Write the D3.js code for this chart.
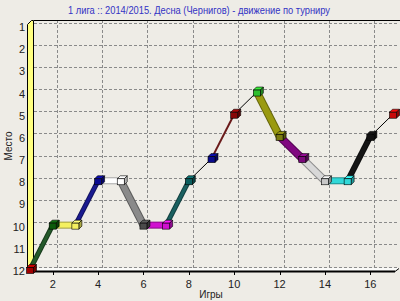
<!DOCTYPE html>
<html>
<head>
<meta charset="utf-8">
<script src="https://cdn.jsdelivr.net/npm/d3@7"></script>
<style>
  html, body { margin: 0; padding: 0; background: #EEECE6; }
  svg { display: block; font-family: "Liberation Sans", Arial, sans-serif; }
</style>
</head>
<body>
<svg id="chart" width="400" height="301"></svg>
<script>
// place after each game
const games  = [1, 2, 3, 4, 5, 6, 7, 8, 9, 10, 11, 12, 13, 14, 15, 16, 17];
const places = [12, 10, 10, 8, 8, 10, 10, 8, 7, 5, 4, 6, 7, 8, 8, 6, 5];
const xTicks = [2, 4, 6, 8, 10, 12, 14, 16];
const yTicks = [1, 2, 3, 4, 5, 6, 7, 8, 9, 10, 11, 12];

// marker colours, one per game
const markerColors = ['#A00000', '#0B5A0B', '#F4F060', '#0A0A90', '#FFFFFF', '#4A4A4A',
  '#D010D0', '#0A5E5E', '#0A0A8C', '#880808', '#2FC02F', '#7A7A10', '#7A087A',
  '#C8C8C8', '#30D8D8', '#111111', '#C80A0A'];
// segment styles, from game i to i+1
const segColors = ['#245A2A', '#F4F060', '#1A1A90', '#FFFFFF', '#8A8A8A', '#D010D0',
  '#1A6060', '#000000', '#6A1A1A', '#000000', '#9A9A10', '#800880', '#D8D8D8',
  '#30D8D8', '#151515', '#000000'];
const segWidths = [3, 5, 3, 5, 6, 5, 3, 1, 2, 1, 6, 6, 6, 5, 4, 1];

const svg = d3.select('#chart');
const W = 400;
const dx = 4, dy = -3; // depth of the 3d back wall

const x = d3.scaleLinear().domain([1, 17]).range([30, 393]);
const y = d3.scaleLinear().domain([1, 12]).range([25.5, 269.5]);

const plotTop = 20, floor = 271, right = 399;
const x0 = x(1);

// floor face
svg.append('polygon')
  .attr('points', [[x0 - 1, floor], [right - dx, floor], [right, floor + dy], [x0 + dx, floor + dy]].join(' '))
  .attr('fill', '#FAFAF8');

// grid on the back wall
const grid = svg.append('g')
  .attr('stroke', '#8A8A8A').attr('stroke-dasharray', '3,2').attr('stroke-width', 1);
grid.selectAll('line.h').data(yTicks).enter().append('line')
  .attr('x1', x0 + dx).attr('x2', right)
  .attr('y1', d => Math.round(y(d) + dy) + 0.5).attr('y2', d => Math.round(y(d) + dy) + 0.5);
grid.selectAll('line.v').data(xTicks).enter().append('line')
  .attr('y1', plotTop).attr('y2', floor + dy)
  .attr('x1', d => Math.round(x(d) + dx) + 0.5).attr('x2', d => Math.round(x(d) + dx) + 0.5);

// frame: top line and the floor edge
svg.append('line').attr('x1', x0 + dx).attr('x2', W).attr('y1', plotTop + 0.5).attr('y2', plotTop + 0.5)
  .attr('stroke', '#000');
svg.append('line').attr('x1', x0 - 2).attr('x2', right - dx).attr('y1', floor + 0.5).attr('y2', floor + 0.5)
  .attr('stroke', '#000').attr('stroke-width', 2);
svg.append('line').attr('x1', right - dx).attr('x2', right).attr('y1', floor + 0.5).attr('y2', floor + dy + 0.5)
  .attr('stroke', '#000');

// yellow left wall
svg.append('polygon')
  .attr('points', [[x0 - 2.5, plotTop + 4.5], [x0 + 1.5, plotTop + 0.5], [x0 + dx - 0.5, plotTop + 0.5],
    [x0 + dx - 0.5, floor + dy], [x0 - 0.5, floor + 0.5], [x0 - 2.5, floor + 0.5]].join(' '))
  .attr('fill', '#FFFF80').attr('stroke', '#000');

// axis ticks and labels
svg.selectAll('line.xt').data(xTicks).enter().append('line')
  .attr('x1', d => Math.round(x(d)) + 0.5).attr('x2', d => Math.round(x(d)) + 0.5)
  .attr('y1', floor).attr('y2', floor + 4).attr('stroke', '#000');
svg.selectAll('text.xl').data(xTicks).enter().append('text')
  .attr('x', d => x(d)).attr('y', 288).attr('text-anchor', 'middle')
  .attr('font-size', 11).attr('fill', '#222').text(d => d);
svg.selectAll('text.yl').data(yTicks).enter().append('text')
  .attr('x', 25).attr('y', d => y(d) + 5.5).attr('text-anchor', 'end')
  .attr('font-size', 11).attr('fill', '#222').text(d => d);

// titles
svg.append('text').attr('x', 199).attr('y', 14).attr('text-anchor', 'middle')
  .attr('font-size', 10.5).attr('fill', '#3333C4')
  .attr('textLength', 262).attr('lengthAdjust', 'spacingAndGlyphs')
  .text('1 лига :: 2014/2015. Десна (Чернигов) - движение по турниру');
svg.append('text').attr('x', 211).attr('y', 298).attr('text-anchor', 'middle')
  .attr('font-size', 10).attr('fill', '#222').text('Игры');
svg.append('text').attr('transform', 'translate(12,146) rotate(-90)').attr('text-anchor', 'middle')
  .attr('font-size', 10).attr('fill', '#222').text('Место');

// segments
const pts = games.map((g, i) => [x(g), y(places[i])]);
const segs = d3.pairs(pts).map((p, i) => ({ a: p[0], b: p[1], color: segColors[i], w: segWidths[i] }));
const segG = svg.append('g').attr('stroke-linecap', 'butt');
segG.selectAll('line.o').data(segs.filter(s => s.w > 2)).enter().append('line')
  .attr('x1', s => s.a[0]).attr('y1', s => s.a[1]).attr('x2', s => s.b[0]).attr('y2', s => s.b[1])
  .attr('stroke', s => d3.color(s.color).darker(1.2)).attr('stroke-width', s => s.w + 2);
segG.selectAll('line.c').data(segs).enter().append('line')
  .attr('x1', s => s.a[0]).attr('y1', s => s.a[1]).attr('x2', s => s.b[0]).attr('y2', s => s.b[1])
  .attr('stroke', s => s.color).attr('stroke-width', s => s.w);

// 3d box markers
const mw = 7, mh = 6, md = 3;
const mk = svg.selectAll('g.mk').data(pts).enter().append('g')
  .attr('transform', d => `translate(${d[0] - mw / 2},${d[1] - mh / 2 + 1})`);
mk.append('polygon')
  .attr('points', [[0, 0], [md, -md], [mw + md, -md], [mw, 0]].join(' '))
  .attr('fill', (d, i) => d3.color(markerColors[i]).brighter(0.6))
  .attr('stroke', '#000').attr('stroke-width', 0.6);
mk.append('polygon')
  .attr('points', [[mw, 0], [mw + md, -md], [mw + md, mh - md], [mw, mh]].join(' '))
  .attr('fill', (d, i) => d3.color(markerColors[i]).darker(1))
  .attr('stroke', '#000').attr('stroke-width', 0.6);
mk.append('rect').attr('width', mw).attr('height', mh)
  .attr('fill', (d, i) => markerColors[i])
  .attr('stroke', '#000').attr('stroke-width', 0.6);
</script>
</body>
</html>
